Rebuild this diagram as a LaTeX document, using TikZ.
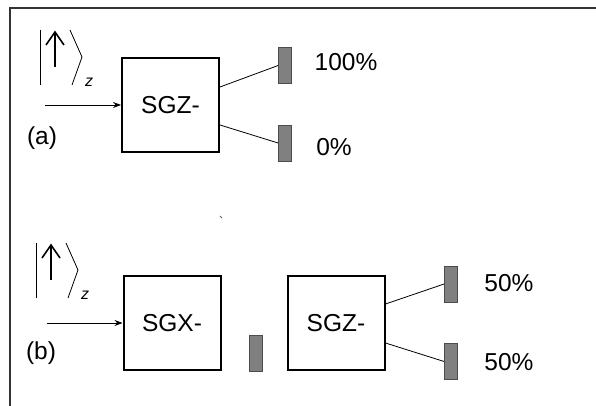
\documentclass[tikz,border=0pt]{standalone}
\usepackage{fontspec}
\setmainfont{Liberation Sans}
\usetikzlibrary{arrows.meta}
\begin{document}
\begin{tikzpicture}[x=1pt,y=-1pt,
  sgbox/.style={draw,line width=2pt,minimum width=97pt,minimum height=94pt,inner sep=0pt,font=\fontsize{24.5}{24.5}\selectfont},
  detector/.style={draw=black!70,fill=black!50,line width=0.8pt,minimum width=13pt,minimum height=36pt,inner sep=0pt},
  lbl/.style={font=\fontsize{24.5}{24.5}\selectfont,inner sep=0pt},
  beam/.style={line width=0.8pt,-{Stealth[length=8pt,width=6pt]}},
  conn/.style={line width=0.8pt},
  ket/.pic={
    \draw[line width=1pt] (0,0) -- (0,55);
    \draw[line width=1.6pt] (15,37) -- (15,3);
    \draw[line width=1.6pt] (6,15) -- (15,2) -- (24,15);
    \draw[line width=0.8pt] (30,0) -- (42,27) -- (32,55);
    \node[font=\itshape\fontsize{16}{16}\selectfont,inner sep=0pt] (-z) at (49,52) {z};
  }
]
\useasboundingbox (0,0) rectangle (596,406);
\clip (0,0) rectangle (596,406);
\draw[line width=1.8pt,black!80] (10,420) -- (10,8) -- (610,8);

% (a)
\pic (keta) at (40,30) {ket};
\node[lbl] (la) at (42,138) {(a)};
\node[sgbox] (za) at (170.5,105) {SGZ-};
\coordinate (ina) at (45,105);
\draw[beam] (ina) -- (za.west);
\node[detector] (da1) at (285,65.5) {};
\node[detector] (da2) at (285,143) {};
\draw[conn] ([yshift=18pt]za.east) -- (da1.west);
\draw[conn] ([yshift=-20pt]za.east) -- (da2.west);
\node[lbl] (pa1) at (346,62) {100\%};
\node[lbl] (pa2) at (334,147) {0\%};

% stray mark
\draw[black!60,line width=1pt] (220,216) -- (222,218);

% (b)
\pic (ketb) at (36,243) {ket};
\node[lbl] (lb) at (41,353) {(b)};
\node[sgbox] (xb) at (172,323) {SGX-};
\coordinate (inb) at (47,323);
\draw[beam] (inb) -- (xb.west);
\node[detector] (dbm) at (256,353.5) {};
\node[sgbox] (zb) at (336,323) {SGZ-};
\node[detector] (db1) at (451,284) {};
\node[detector] (db2) at (451,361.5) {};
\draw[conn] ([yshift=19pt]zb.east) -- (db1.west);
\draw[conn] ([yshift=-20pt]zb.east) -- (db2.west);
\node[lbl] (pb1) at (509,283) {50\%};
\node[lbl] (pb2) at (509,362) {50\%};
\end{tikzpicture}
\end{document}
